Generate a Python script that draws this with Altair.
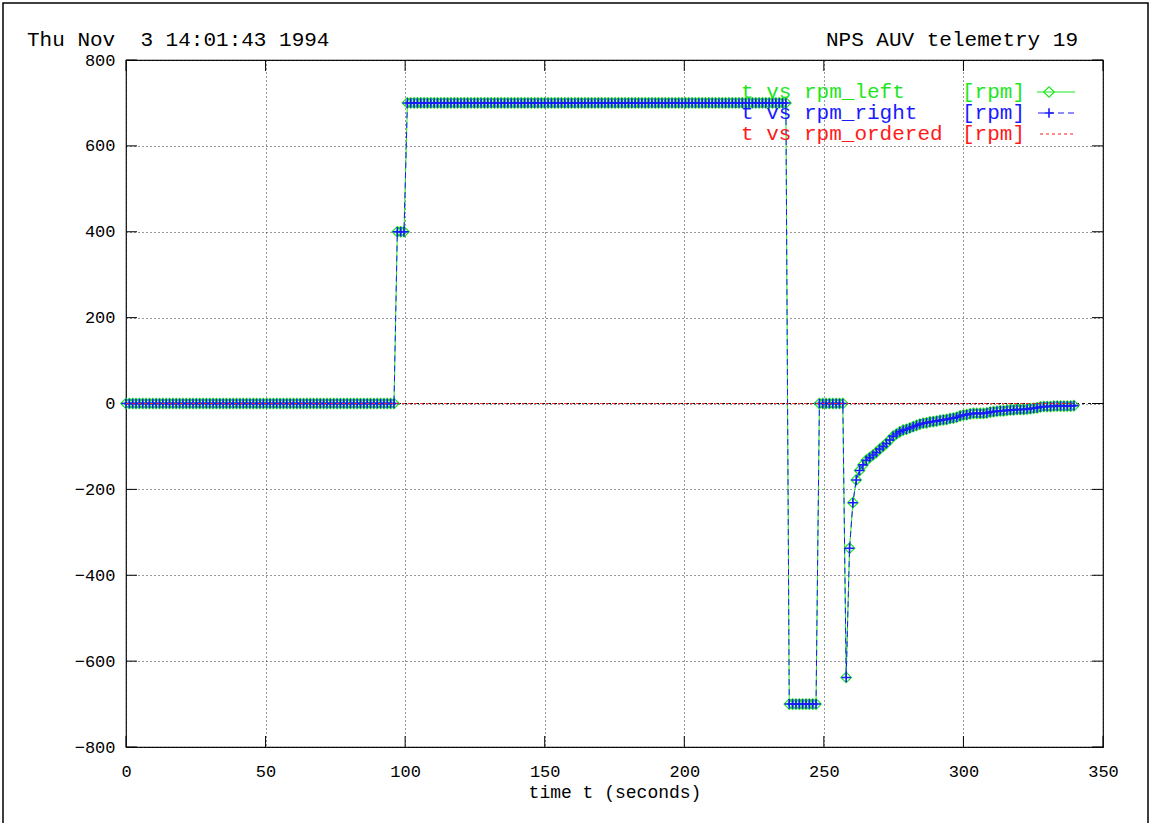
import altair as alt
import pandas as pd

# ---------------- data ----------------
dt = 1.2  # sampling interval (s)
seg_values = [0, 400, 700, -700, 0]          # constant phases (rpm)
seg_counts = [81, 3, 114, 9, 8]              # samples in each phase
transient = [-638, -337, -231, -178, -156]   # spin-down after t~258 s
decay = [-143, -132, -126, -120, -114, -106, -100, -93, -85, -76,
         -71, -66, -62, -60, -57, -54, -51, -48, -46, -45,
         -43, -42, -41, -39, -38, -37, -35, -34, -32, -29,
         -27, -26, -24, -23, -23, -23, -23, -22, -20, -19,
         -18, -17, -17, -16, -15, -15, -14, -14, -14, -13,
         -12, -11, -10, -8, -7, -7, -7, -6, -6, -6,
         -6, -6, -6, -5]

x_ticks = [0, 50, 100, 150, 200, 250, 300, 350]
y_ticks = [-800, -600, -400, -200, 0, 200, 400, 600, 800]

rpm = []
for v, c in zip(seg_values, seg_counts):
    rpm += [v] * c
rpm += transient + decay
rpm_left = list(rpm)
rpm_right = list(rpm)
rpm_ordered = [0] * len(rpm)
t = [round(i * dt, 1) for i in range(len(rpm))]

df = pd.DataFrame({"t": t, "left": rpm_left, "right": rpm_right,
                   "ordered": rpm_ordered})
xt = pd.DataFrame({"v": x_ticks})
yt = pd.DataFrame({"v": y_ticks})
one = pd.DataFrame({"a": [0]})

# ---------------- style ----------------
W, H = 977, 687
GREEN, BLUE, RED = "#1ee61e", "#1a1aff", "#ff1a1a"
FONT = "Liberation Mono"
TICK = 11
CROSS = "M-1,0L1,0M0,-1L0,1"
DSIZE, CSIZE = 110, 90

xs = alt.Scale(domain=[0, 350], nice=False, zero=False)
ys = alt.Scale(domain=[-800, 800], nice=False)

xaxis = alt.Axis(values=x_ticks, grid=True, ticks=False, domain=False,
                 gridDash=[1, 3], gridColor="#333333", gridWidth=1,
                 labelFont=FONT, labelFontSize=17, labelColor="black",
                 labelPadding=16, labelFlush=False,
                 title="time t (seconds)", titleFont=FONT, titleFontSize=18,
                 titleFontWeight="normal", titleColor="black", titlePadding=4)
yaxis = alt.Axis(values=y_ticks, grid=True, ticks=False, domain=False,
                 gridDash=[1, 3], gridColor="#333333", gridWidth=1,
                 labelFont=FONT, labelFontSize=17, labelColor="black",
                 labelPadding=11, labelFlush=False, title=None)

base = alt.Chart(df)

grid = base.mark_line(opacity=0).encode(
    x=alt.X("t:Q", scale=xs, axis=xaxis),
    y=alt.Y("left:Q", scale=ys, axis=yaxis),
)

zero = alt.Chart(one).mark_rule(color="black", strokeDash=[3, 3],
                                strokeWidth=1).encode(
    y=alt.Y("a:Q", scale=ys))

tick_b = alt.Chart(xt).mark_rule(color="black", strokeWidth=1).encode(
    x=alt.X("v:Q", scale=xs), y=alt.value(H), y2=alt.value(H - TICK))
tick_t = alt.Chart(xt).mark_rule(color="black", strokeWidth=1).encode(
    x=alt.X("v:Q", scale=xs), y=alt.value(0), y2=alt.value(TICK))
tick_l = alt.Chart(yt).mark_rule(color="black", strokeWidth=1).encode(
    y=alt.Y("v:Q", scale=ys), x=alt.value(0), x2=alt.value(TICK))
tick_r = alt.Chart(yt).mark_rule(color="black", strokeWidth=1).encode(
    y=alt.Y("v:Q", scale=ys), x=alt.value(W), x2=alt.value(W - TICK))

enc_l = dict(x=alt.X("t:Q", scale=xs), y=alt.Y("left:Q", scale=ys))
enc_r = dict(x=alt.X("t:Q", scale=xs), y=alt.Y("right:Q", scale=ys))
enc_o = dict(x=alt.X("t:Q", scale=xs), y=alt.Y("ordered:Q", scale=ys))

line_l = base.mark_line(color=GREEN, strokeWidth=1).encode(**enc_l)
pts_l = base.mark_point(shape="diamond", size=DSIZE, filled=False,
                        color=GREEN, strokeWidth=1.2, opacity=1).encode(**enc_l)
line_r = base.mark_line(color=BLUE, strokeWidth=1,
                        strokeDash=[6, 4]).encode(**enc_r)
pts_r = base.mark_point(shape=CROSS, size=CSIZE, filled=False, color=BLUE,
                        strokeWidth=1.6, opacity=1).encode(**enc_r)
line_o = base.mark_line(color=RED, strokeWidth=1,
                        strokeDash=[3, 3]).encode(**enc_o)

# ---------------- texts / key ----------------
def txt(s, x, y, color="black", size=21, align="left"):
    return alt.Chart(one).mark_text(text=s, font=FONT, fontSize=size,
                                    color=color, align=align,
                                    baseline="middle").encode(
        x=alt.value(x), y=alt.value(y))

title_l = txt("Thu Nov \u00a03 14:01:43 1994", -99, -20)
title_r = txt("NPS AUV telemetry 19", 952, -20, align="right")

rows = [("t vs rpm_left", GREEN, 32), ("t vs rpm_right", BLUE, 53),
        ("t vs rpm_ordered", RED, 74)]
key = []
for label, col, yy in rows:
    key.append(txt(label, 615, yy, color=col))
    key.append(txt("[rpm]", 836, yy, color=col))
key.append(alt.Chart(one).mark_rule(color=GREEN, strokeWidth=1).encode(
    x=alt.value(911), x2=alt.value(949), y=alt.value(32)))
key.append(alt.Chart(one).mark_point(shape="diamond", size=DSIZE, filled=False,
                                     color=GREEN, strokeWidth=1.2, opacity=1)
           .encode(x=alt.value(923), y=alt.value(32)))
key.append(alt.Chart(one).mark_rule(color=BLUE, strokeWidth=1,
                                    strokeDash=[6, 4]).encode(
    x=alt.value(912), x2=alt.value(949), y=alt.value(53)))
key.append(alt.Chart(one).mark_point(shape=CROSS, size=CSIZE, filled=False,
                                     color=BLUE, strokeWidth=1.6, opacity=1)
           .encode(x=alt.value(923), y=alt.value(53)))
key.append(alt.Chart(one).mark_rule(color=RED, strokeWidth=1,
                                    strokeDash=[3, 3]).encode(
    x=alt.value(914), x2=alt.value(949), y=alt.value(74)))

frame = alt.Chart(one).mark_rect(fillOpacity=0, stroke="black",
                                 strokeWidth=1.5).encode(
    x=alt.value(-123), x2=alt.value(W + 45),
    y=alt.value(-57), y2=alt.value(H + 95))

chart = alt.layer(
    grid, zero, tick_b, tick_t, tick_l, tick_r,
    line_l, pts_l, line_r, pts_r, line_o,
    title_l, title_r, *key, frame,
).properties(
    width=W, height=H,
    padding={"left": 126, "top": 60, "right": 48, "bottom": 76},
    autosize=alt.AutoSizeParams(type="none"),
    background="white",
).configure_view(stroke="black", strokeWidth=1.2)

chart.save("out.html", embed_options={"renderer": "svg", "actions": False})
